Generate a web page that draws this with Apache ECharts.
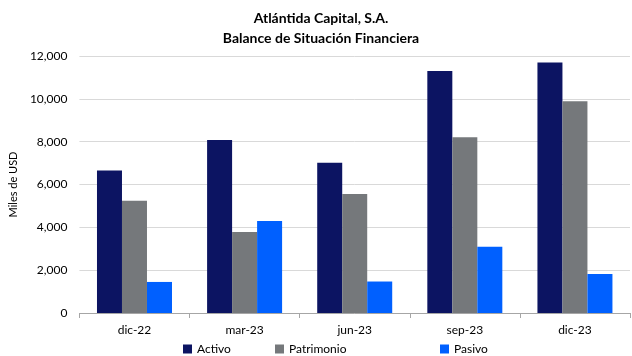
<!DOCTYPE html>
<html><head><meta charset="utf-8">
<script src="https://cdn.jsdelivr.net/npm/echarts@6/dist/echarts.min.js"></script>
<style>html,body{margin:0;padding:0;background:#fff}#c{width:632px;height:356px}</style>
</head><body><div id="c"></div>
<script>
const categories = ['dic-22', 'mar-23', 'jun-23', 'sep-23', 'dic-23'];
const activo = [6650, 8080, 7020, 11300, 11700];
const patrimonio = [5240, 3780, 5560, 8210, 9890];
const pasivo = [1450, 4300, 1470, 3090, 1820];
const yTicks = [0, 2000, 4000, 6000, 8000, 10000, 12000];

const FONT = 'Lato';
const chart = echarts.init(document.getElementById('c'), null, {renderer: 'canvas'});
const legendText = {fontFamily: FONT, fontSize: 12, color: '#000'};
const lg = (name, left) => ({data: [name], left: left, top: 343, padding: 0, itemWidth: 9, itemHeight: 9,
  itemGap: 4, textStyle: legendText, icon: 'rect'});
chart.setOption({
  animation: false,
  backgroundColor: '#fff',
  title: {
    text: 'Atlántida Capital, S.A.\nBalance de Situación Financiera',
    left: 321, top: 8, padding: 0, textAlign: 'center',
    textStyle: {fontFamily: FONT, fontSize: 14, fontWeight: 'bold', color: '#000', lineHeight: 20}
  },
  legend: [lg('Activo', 183), lg('Patrimonio', 275), lg('Pasivo', 440)],
  grid: {left: 77, right: 2, top: 56, bottom: 43, containLabel: false},
  xAxis: {
    type: 'category', data: categories,
    axisLine: {lineStyle: {color: '#a6a6a6'}},
    axisTick: {show: true, length: 5, lineStyle: {color: '#a6a6a6'}},
    axisLabel: {fontFamily: FONT, fontSize: 12, color: '#000', margin: 11}
  },
  yAxis: {
    type: 'value', min: yTicks[0], max: yTicks[yTicks.length - 1], interval: 2000,
    name: 'Miles de USD', nameLocation: 'middle', nameGap: 58,
    nameTextStyle: {fontFamily: FONT, fontSize: 11, color: '#000'},
    axisLine: {show: false}, axisTick: {show: false},
    axisLabel: {fontFamily: FONT, fontSize: 12, color: '#000', margin: 12,
      formatter: v => v.toLocaleString('en-US')},
    splitLine: {lineStyle: {color: '#d9d9d9'}}
  },
  series: [
    {name: 'Activo', type: 'bar', data: activo, barWidth: 25, barGap: '0%',
      itemStyle: {color: '#0c1462'}},
    {name: 'Patrimonio', type: 'bar', data: patrimonio, barWidth: 25, barGap: '0%',
      itemStyle: {color: '#75787b'}},
    {name: 'Pasivo', type: 'bar', data: pasivo, barWidth: 25, barGap: '0%',
      itemStyle: {color: '#0060ff'}}
  ]
});
</script></body></html>
